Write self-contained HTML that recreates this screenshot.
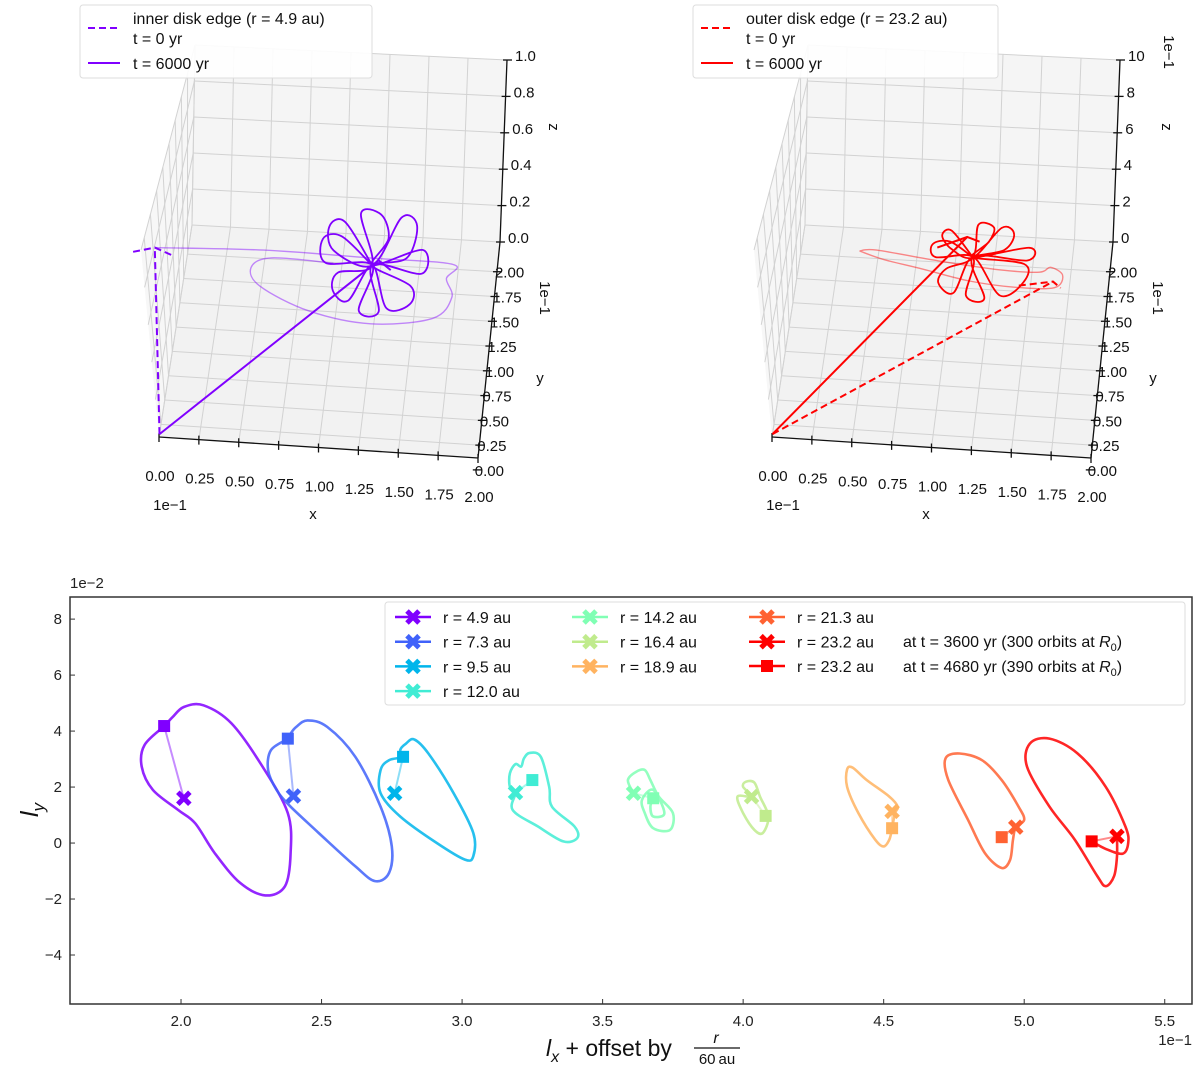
<!DOCTYPE html>
<html><head><meta charset="utf-8"><style>
html,body{margin:0;padding:0;background:#fff;}
svg{display:block;font-family:"Liberation Sans","DejaVu Sans",sans-serif;}
</style></head>
<body>
<svg id="fig" width="1200" height="1070" viewBox="0 0 1200 1070" xmlns="http://www.w3.org/2000/svg">
<g id="top3d"></g>
<g id="bottom"></g>
</svg>
<script>
// ================= Bottom chart data =================
const radii = [4.9, 7.3, 9.5, 12.0, 14.2, 16.4, 18.9, 21.3, 23.2];
const crossX = [2.01, 2.40, 2.76, 3.19, 3.61, 4.03, 4.53, 4.97, 5.33];
const crossY = [1.60, 1.68, 1.78, 1.80, 1.78, 1.66, 1.13, 0.57, 0.24];
const squareX = [1.94, 2.38, 2.79, 3.25, 3.68, 4.08, 4.53, 4.92, 5.24];
const squareY = [4.18, 3.73, 3.08, 2.25, 1.60, 0.97, 0.53, 0.21, 0.06];
const loop1X = [1.94,1.87,1.86,1.90,1.99,2.05,2.12,2.21,2.30,2.37,2.39,2.38,2.29,2.18,2.08,2.01,1.97];
const loop1Y = [4.18,3.50,2.73,1.90,1.18,0.71,-0.36,-1.42,-1.87,-1.54,-0.36,1.07,2.73,4.27,4.92,4.86,4.50];
const loop2X = [2.38,2.32,2.31,2.34,2.39,2.49,2.62,2.69,2.74,2.75,2.71,2.62,2.52,2.45,2.41,2.39];
const loop2Y = [3.73,3.32,2.61,1.90,1.30,0.36,-0.83,-1.36,-1.07,-0.12,1.30,3.08,4.15,4.38,4.15,3.91];
const loop3X = [2.79,2.74,2.71,2.71,2.78,2.91,3.01,3.04,3.04,2.97,2.88,2.83,2.80,2.78];
const loop3Y = [3.08,2.96,2.61,1.78,0.95,0.00,-0.59,-0.47,0.36,1.78,3.20,3.70,3.55,3.32];
const loop4X = [3.19,3.18,3.27,3.36,3.41,3.40,3.32,3.31,3.28,3.24,3.22,3.21,3.19,3.17,3.17];
const loop4Y = [1.80,1.18,0.59,0.06,0.18,0.59,1.30,2.01,3.08,3.22,3.02,2.73,2.82,2.49,2.01];
const loop5X = [3.61,3.59,3.62,3.65,3.67,3.70,3.75,3.74,3.68,3.65,3.64,3.68,3.72,3.68,3.67,3.68];
const loop5Y = [1.78,2.25,2.55,2.61,2.25,1.66,1.07,0.47,0.53,1.07,1.54,1.90,1.07,0.95,1.30,1.60];
const loop6X = [4.03,4.00,4.01,4.04,4.06,4.09,4.07,4.04,4.00,3.98];
const loop6Y = [1.66,2.01,2.19,2.16,1.66,0.95,0.36,0.47,1.07,1.66];
const loop7X = [4.53,4.52,4.50,4.47,4.41,4.37,4.37,4.39,4.44,4.52,4.55,4.54];
const loop7Y = [0.53,0.12,-0.12,0.12,1.07,2.01,2.63,2.69,2.25,1.66,1.30,1.07];
const loop8X = [4.97,5.00,4.98,4.92,4.85,4.77,4.72,4.73,4.80,4.86,4.92,4.95,4.96];
const loop8Y = [0.57,0.83,1.30,2.25,2.96,3.20,3.02,2.25,0.83,-0.36,-0.89,-0.59,0.12];
const loop9X = [5.33,5.33,5.32,5.29,5.26,5.18,5.09,5.01,5.02,5.09,5.19,5.29,5.36,5.37,5.35,5.29,5.24];
const loop9Y = [0.24,-0.47,-1.18,-1.54,-1.18,0.12,1.30,2.73,3.55,3.73,3.20,2.01,0.59,0.00,-0.38,-0.21,0.06];
const xTicks = [2.0, 2.5, 3.0, 3.5, 4.0, 4.5, 5.0, 5.5];
const xTickLabels = ["2.0","2.5","3.0","3.5","4.0","4.5","5.0","5.5"];
const yTicks = [8, 6, 4, 2, 0, -2, -4];
const yTickLabels = ["8","6","4","2","0","\u22122","\u22124"];

const colors = ["#8000ff","#4062fa","#00b5eb","#40ecd4","#80ffb4","#c0eb8d","#ffb360","#ff6232","#ff0000"];
const NS = "http://www.w3.org/2000/svg";
function el(parent, tag, attrs, text){
  const e = document.createElementNS(NS, tag);
  for (const k in attrs) e.setAttribute(k, attrs[k]);
  if (text !== undefined) e.textContent = text;
  parent.appendChild(e); return e;
}
function crPath(pts, closed){
  const n = pts.length;
  const get = i => closed ? pts[(i+n)%n] : pts[Math.max(0, Math.min(n-1, i))];
  let d = "M" + pts[0][0].toFixed(1) + "," + pts[0][1].toFixed(1);
  const segs = closed ? n : n-1;
  for (let i=0;i<segs;i++){
    const p0=get(i-1),p1=get(i),p2=get(i+1),p3=get(i+2);
    const c1=[p1[0]+(p2[0]-p0[0])/6, p1[1]+(p2[1]-p0[1])/6];
    const c2=[p2[0]-(p3[0]-p1[0])/6, p2[1]-(p3[1]-p1[1])/6];
    d += " C"+c1[0].toFixed(1)+","+c1[1].toFixed(1)+" "+c2[0].toFixed(1)+","+c2[1].toFixed(1)+" "+p2[0].toFixed(1)+","+p2[1].toFixed(1);
  }
  return d + (closed ? " Z" : "");
}

// ---------- bottom axes ----------
const B = {x0:70, x1:1192, y0:597, y1:1004, xmin:1.605, xmax:5.597, ymin:-5.75, ymax:8.79};
function sx(v){ return B.x0 + (v - B.xmin)/(B.xmax - B.xmin)*(B.x1 - B.x0); }
function sy(v){ return B.y1 - (v - B.ymin)/(B.ymax - B.ymin)*(B.y1 - B.y0); }
const bot = document.getElementById("bottom");
const frameRect = el(bot, "rect", {x:B.x0, y:B.y0, width:B.x1-B.x0, height:B.y1-B.y0, fill:"none", stroke:"#333", "stroke-width":1.5});


xTicks.forEach((t,i)=>{
  const X = sx(t);
  const tk = el(bot,"line",{x1:X,x2:X,y1:B.y1,y2:B.y1-5,stroke:"#333","stroke-width":1});
  
  
  const lb = el(bot,"text",{x:X,y:B.y1+22,"text-anchor":"middle","font-size":15,fill:"#222"}, xTickLabels[i]);
  
  
});
yTicks.forEach((t,i)=>{
  const Y = sy(t);
  const tk = el(bot,"line",{x1:B.x0,x2:B.x0+5,y1:Y,y2:Y,stroke:"#333","stroke-width":1});
  
  
  const lb = el(bot,"text",{x:B.x0-8,y:Y+5,"text-anchor":"end","font-size":15,fill:"#222"}, yTickLabels[i]);
  
  
});
let t1 = el(bot,"text",{x:70,y:588,"font-size":15,fill:"#222"},"1e\u22122");


let t2 = el(bot,"text",{x:1192,y:1045,"text-anchor":"end","font-size":15,fill:"#222"},"1e\u22121");


let yl = el(bot,"text",{x:0,y:0,"font-size":25,fill:"#111",transform:"translate(38,810) rotate(-90)","text-anchor":"middle"});
yl.innerHTML = '<tspan font-style="italic">l</tspan><tspan font-style="italic" font-size="17" dy="6">y</tspan>';


let xl = el(bot,"g",{});


el(xl,"text",{x:546,y:1056,"font-size":23,fill:"#111"}).innerHTML = '<tspan font-style="italic">l</tspan><tspan font-style="italic" font-size="16" dy="6">x</tspan><tspan dy="-6"> + offset by </tspan>';
el(xl,"text",{x:716,y:1043,"font-size":16,"font-style":"italic","text-anchor":"middle",fill:"#111"},"r");
el(xl,"line",{x1:694,x2:740,y1:1048,y2:1048,stroke:"#111","stroke-width":1.2});
el(xl,"text",{x:717,y:1064,"font-size":15,"text-anchor":"middle",fill:"#111"},"60\u2009au");

const loopsX = [loop1X,loop2X,loop3X,loop4X,loop5X,loop6X,loop7X,loop8X,loop9X];
const loopsY = [loop1Y,loop2Y,loop3Y,loop4Y,loop5Y,loop6Y,loop7Y,loop8Y,loop9Y];
const closedFlags = [true,true,true,true,false,true,true,true,false];
function drawX(parent, X, Y, c, s){
  const g = el(parent,"g",{});
  el(g,"line",{x1:X-s,y1:Y-s,x2:X+s,y2:Y+s,stroke:c,"stroke-width":5,"stroke-linecap":"butt"});
  el(g,"line",{x1:X-s,y1:Y+s,x2:X+s,y2:Y-s,stroke:c,"stroke-width":5,"stroke-linecap":"butt"});
  return g;
}
radii.forEach((r,i)=>{
  const g = el(bot,"g",{});
  
  
  const pts = loopsX[i].map((v,k)=>[sx(v), sy(loopsY[i][k])]);
  const p = el(g,"path",{d:crPath(pts, closedFlags[i]), fill:"none", stroke:colors[i], "stroke-width":2.6, "stroke-opacity":0.85});
  
  
  const c = el(g,"line",{x1:sx(squareX[i]),y1:sy(squareY[i]),x2:sx(crossX[i]),y2:sy(crossY[i]),stroke:colors[i],"stroke-width":2,"stroke-opacity":0.45});
  
  
  const sq = el(g,"rect",{x:sx(squareX[i])-6,y:sy(squareY[i])-6,width:12,height:12,fill:colors[i]});
  
  
  const xm = drawX(g, sx(crossX[i]), sy(crossY[i]), colors[i], 6);
  
  
});
// legend
const lg = el(bot,"g",{});


el(lg,"rect",{x:385,y:602,width:800,height:103,rx:3,fill:"#fff","fill-opacity":0.85,stroke:"#ddd"});
const legCol = [0,0,0,0,1,1,1,2,2];
const legRow = [0,1,2,3,0,1,2,0,1];
const colMX = [413,590,767];
radii.forEach((r,i)=>{
  const e = el(lg,"g",{});
  
  
  const Y = 617 + legRow[i]*24.7, X = colMX[legCol[i]];
  el(e,"line",{x1:X-18,x2:X+18,y1:Y,y2:Y,stroke:colors[i],"stroke-width":2.5});
  drawX(e, X, Y, colors[i], 6);
  el(e,"text",{x:X+30,y:Y+6,"font-size":16,fill:"#111"},"r = "+r.toFixed(1)+" au");
});
const e2 = el(lg,"g",{});


el(e2,"line",{x1:749,x2:785,y1:666,y2:666,stroke:"#ff0000","stroke-width":2.5});
el(e2,"rect",{x:761,y:660,width:12,height:12,fill:"#ff0000"});
el(e2,"text",{x:797,y:672,"font-size":16,fill:"#111"},"r = 23.2 au");
el(lg,"text",{x:903,y:647,"font-size":16,fill:"#111"}).innerHTML='at t = 3600 yr  (300 orbits at <tspan font-style="italic">R</tspan><tspan font-size="11" dy="4">0</tspan><tspan dy="-4">)</tspan>';
el(lg,"text",{x:903,y:672,"font-size":16,fill:"#111"}).innerHTML='at t = 4680 yr  (390 orbits at <tspan font-style="italic">R</tspan><tspan font-size="11" dy="4">0</tspan><tspan dy="-4">)</tspan>';

// ================= 3D panels data =================
const xTicks3d = [0,0.25,0.5,0.75,1.0,1.25,1.5,1.75,2.0];
const xTickLabels3d = ["0.00","0.25","0.50","0.75","1.00","1.25","1.50","1.75","2.00"];
const yTicks3d = [0,0.25,0.5,0.75,1.0,1.25,1.5,1.75,2.0];
const yTickLabels3d = ["0.00","0.25","0.50","0.75","1.00","1.25","1.50","1.75","2.00"];
const zTicksL = [0,0.2,0.4,0.6,0.8,1.0];
const zTickLabelsL = ["0.0","0.2","0.4","0.6","0.8","1.0"];
const zTicksR = [0,2,4,6,8,10];
const zTickLabelsR = ["0","2","4","6","8","10"];
const innerSolidX = [0, 1.24, 1.32];
const innerSolidY = [0.15, 1.9, 1.9];
const innerSolidZ = [0, 0.08, 0.03];
const innerDashX = [0, -0.2];
const innerDashY = [0.15, 1.9];
const innerDashZ = [0, 0.08];
const innerHeadX = [-0.34, -0.2, -0.08];
const innerHeadZ = [0.05, 0.08, 0.04];
const innerRoseX = [1.2,1.02,0.92,0.95,1.2,1.38,1.48,1.42,1.2,1.45,1.45,1.3,1.2,1.05,0.95,0.98,1.2,1.12,1.25,1.3,1.2,1.52,1.52,1.2,1.25,1.12,1.2,0.9,0.88,1.0,1.2];
const innerRoseZ = [0.05,0.28,0.25,0.12,0.05,0.32,0.28,0.1,0.05,-0.05,-0.15,-0.18,0.05,-0.15,-0.1,0.0,0.05,0.33,0.33,0.2,0.05,0.15,0.02,0.05,-0.2,-0.2,0.05,0.05,0.18,0.2,0.05];
const innerFaintX = [-0.2,0.5,1.2,1.72,1.68,1.72,1.6,1.2,0.8,0.48,0.42,0.55,0.95];
const innerFaintZ = [0.08,0.1,0.09,0.08,0.0,-0.1,-0.22,-0.27,-0.22,-0.1,0.0,0.06,0.05];
const outerSolidX = [0, 1.08];
const outerSolidY = [0.15, 1.9];
const outerSolidZ = [0, 2.0];
const outerSHeadX = [0.89, 1.08, 1.16];
const outerSHeadZ = [1.33, 2.0, 1.78];
const outerDashX = [0, 1.64];
const outerDashY = [0.15, 1.9];
const outerDashZ = [0, -0.17];
const outerDHeadX = [1.42, 1.64, 1.69];
const outerDHeadZ = [-0.5, -0.17, -0.5];
const outerRoseX = [1.12,0.98,0.92,0.98,1.12,1.3,1.38,1.32,1.12,1.45,1.45,1.3,1.12,1.0,0.9,0.95,1.12,1.15,1.25,1.22,1.12,1.48,1.47,1.12,1.2,1.08,1.12,0.88,0.86,0.97,1.12];
const outerRoseZ = [0.9,2.3,2.0,1.3,0.9,2.6,2.3,1.4,0.9,0.7,-0.3,-1.1,0.9,-1.1,-0.6,0.2,0.9,2.7,2.6,1.8,0.9,1.6,0.9,0.9,-1.3,-1.2,0.9,0.8,1.5,1.7,0.9];
const outerFaintX = [0.39,0.55,0.8,1.1,1.4,1.65,1.7,1.62,1.55,1.3,0.9,0.5,0.39];
const outerFaintZ = [0.9,0.5,0.1,-0.4,-0.6,-0.5,0.2,0.6,0.3,0.3,0.6,1.0,0.9];

const topG = document.getElementById("top3d");
const P00=[159,437],P10=[478,458],P01=[192,225],P11=[500,242];
const Z00=[-18,-187],Z10=[15,-190],Z01=[3,-180],Z11=[7,-182];
const YLO=0.12, YHI=2.3;
function bil(A,Bp,C,D,u,v,k){ return A[k]*(1-u)*(1-v)+Bp[k]*u*(1-v)+C[k]*(1-u)*v+D[k]*u*v; }
function makeProj(ox, zmax){
  return function(x,y,z){
    const u=x/2, v=(y-YLO)/(YHI-YLO), w=z/zmax;
    return [ox + bil(P00,P10,P01,P11,u,v,0) + w*bil(Z00,Z10,Z01,Z11,u,v,0),
                 bil(P00,P10,P01,P11,u,v,1) + w*bil(Z00,Z10,Z01,Z11,u,v,1)];
  };
}
function pstr(a){ return a[0].toFixed(1)+","+a[1].toFixed(1); }
function line3(g, pr, a, b, attrs){
  const p=pr(a[0],a[1],a[2]), q=pr(b[0],b[1],b[2]);
  return el(g,"line",Object.assign({x1:p[0],y1:p[1],x2:q[0],y2:q[1]},attrs));
}
function panel(cfg){
  const g = el(topG,"g",{});
  
  
  const pr = makeProj(cfg.ox, cfg.zmax);
  const zm = cfg.zmax;
  const poly = pts => pts.map(p=>pstr(pr(p[0],p[1],p[2]))).join(" ");
  const fl = el(g,"polygon",{points:poly([[0,YLO,0],[2,YLO,0],[2,YHI,0],[0,YHI,0]]),fill:"#f2f2f2",stroke:"none"});
  
  
  const bw = el(g,"polygon",{points:poly([[0,YHI,0],[2,YHI,0],[2,YHI,zm],[0,YHI,zm]]),fill:"#f5f5f5",stroke:"none"});
  
  
  const lw = el(g,"polygon",{points:poly([[0,YLO,0],[0,YHI,0],[0,YHI,zm],[0,YLO,zm]]),fill:"#f7f7f7",stroke:"none"});
  
  
  const grid = el(g,"g",{stroke:"#d2d2d2","stroke-width":1});
  
  
  xTicks3d.forEach(x=>{ line3(grid,pr,[x,YLO,0],[x,YHI,0],{}); line3(grid,pr,[x,YHI,0],[x,YHI,zm],{}); });
  yTicks3d.slice(1).forEach(y=>{ line3(grid,pr,[0,y,0],[2,y,0],{}); line3(grid,pr,[0,y,0],[0,y,zm],{}); });
  line3(grid,pr,[0,YHI,0],[0,YHI,zm],{});
  cfg.zt.forEach(z=>{ line3(grid,pr,[0,YHI,z],[2,YHI,z],{}); line3(grid,pr,[0,YLO,z],[0,YHI,z],{}); });
  const ax = el(g,"g",{stroke:"#111","stroke-width":1.3,fill:"none"});
  
  
  const a0=pr(0,YLO,0), a1=pr(2,YLO,0), a2=pr(2,YHI,0), a3=pr(2,YHI,zm);
  el(ax,"polyline",{points:[a0,a1].map(pstr).join(" ")});
  el(ax,"polyline",{points:[a1,a2,a3].map(pstr).join(" ")});
  xTicks3d.forEach((x,i)=>{
    const p = pr(x,YLO,0);
    el(ax,"line",{x1:p[0],y1:p[1]-4,x2:p[0],y2:p[1]+5});
    const t = el(g,"text",{x:p[0]+1,y:p[1]+44,"text-anchor":"middle","font-size":15,fill:"#111"},xTickLabels3d[i]);
    
    
  });
  yTicks3d.forEach((y,i)=>{
    const p = pr(2,y,0);
    el(ax,"line",{x1:p[0]-4,y1:p[1],x2:p[0]+5,y2:p[1]});
    const t = el(g,"text",{x:p[0]-2,y:p[1]+6,"font-size":15,fill:"#111"},yTickLabels3d[i]);
    
    
  });
  cfg.zt.forEach((z,i)=>{
    const p = pr(2,YHI,z);
    el(ax,"line",{x1:p[0]-4,y1:p[1],x2:p[0]+5,y2:p[1]});
    const t = el(g,"text",{x:p[0]+8,y:p[1]+1,"font-size":15,fill:"#111"},cfg.zl[i]);
    
    
  });
  const ox = cfg.ox;
  const lab = (x,y,txt,rot,nm)=>{ const t=el(g,"text",{x:0,y:0,"font-size":15,fill:"#111","text-anchor":"middle",transform:"translate("+x+","+y+")"+(rot?" rotate("+rot+")":"")},txt);   };
  lab(ox+313,519,"x",0,'x-axis-title');
  lab(ox+170,510,"1e\u22121",0,'x-offset-label');
  lab(ox+540,383,"y",0,'y-axis-title');
  lab(ox+540,298,"1e\u22121",90,'y-offset-label');
  lab(ox+549,127,"z",90,'z-axis-title');
  if (cfg.zOffset) lab(ox+551,52,"1e\u22121",90,'z-offset-label');
  const c = cfg.color;
  const traj = el(g,"g",{fill:"none"});
  
  
  const fpts = cfg.faintX.map((x,k)=>pr(x,1.9,cfg.faintZ[k]));
  let f = el(traj,"path",{d:crPath(fpts,false),stroke:c,"stroke-width":1.4,"stroke-opacity":0.45});
  
  
  const rpts = cfg.roseX.map((x,k)=>pr(x,1.9,cfg.roseZ[k]));
  let rp = el(traj,"path",{d:crPath(rpts,false),stroke:c,"stroke-width":1.8});
  
  
  let ds = el(traj,"polyline",{points:cfg.dashX.map((x,k)=>pstr(pr(x,cfg.dashY[k],cfg.dashZ[k]))).join(" "),stroke:c,"stroke-width":2,"stroke-dasharray":"7,4"});
  
  
  let dh = el(traj,"polyline",{points:cfg.dHeadX.map((x,k)=>pstr(pr(x,1.9,cfg.dHeadZ[k]))).join(" "),stroke:c,"stroke-width":2,"stroke-dasharray":"7,4"});
  
  
  let so = el(traj,"polyline",{points:cfg.solidX.map((x,k)=>pstr(pr(x,cfg.solidY[k],cfg.solidZ[k]))).join(" "),stroke:c,"stroke-width":2});
  
  
  if (cfg.sHeadX){
    let sh = el(traj,"polyline",{points:cfg.sHeadX.map((x,k)=>pstr(pr(x,1.9,cfg.sHeadZ[k]))).join(" "),stroke:c,"stroke-width":2});
    
    
  }
  const L = el(g,"g",{});
  
  
  el(L,"rect",{x:ox+80,y:5,width:cfg.legW,height:73,rx:3,fill:"#fff","fill-opacity":0.9,stroke:"#ddd"});
  el(L,"line",{x1:ox+88,x2:ox+120,y1:28,y2:28,stroke:c,"stroke-width":2,"stroke-dasharray":"7,4"});
  el(L,"line",{x1:ox+88,x2:ox+120,y1:63,y2:63,stroke:c,"stroke-width":2});
  el(L,"text",{x:ox+133,y:24,"font-size":16,fill:"#111"},cfg.legTitle);
  el(L,"text",{x:ox+133,y:44,"font-size":16,fill:"#111"},"t = 0 yr");
  el(L,"text",{x:ox+133,y:69,"font-size":16,fill:"#111"},"t = 6000 yr");
}
panel({name:"inner-disk-3d-panel", ox:0, zmax:1, zt:zTicksL, zl:zTickLabelsL, color:"#8000ff",
  faintX:innerFaintX, faintZ:innerFaintZ, roseX:innerRoseX, roseZ:innerRoseZ,
  dashX:innerDashX, dashY:innerDashY, dashZ:innerDashZ, dHeadX:innerHeadX, dHeadZ:innerHeadZ,
  solidX:innerSolidX, solidY:innerSolidY, solidZ:innerSolidZ, legW:292, legTitle:"inner disk edge (r = 4.9 au)", zOffset:false});
panel({name:"outer-disk-3d-panel", ox:613, zmax:10, zt:zTicksR, zl:zTickLabelsR, color:"#ff0000",
  faintX:outerFaintX, faintZ:outerFaintZ, roseX:outerRoseX, roseZ:outerRoseZ,
  dashX:outerDashX, dashY:outerDashY, dashZ:outerDashZ, dHeadX:outerDHeadX, dHeadZ:outerDHeadZ,
  solidX:outerSolidX, solidY:outerSolidY, solidZ:outerSolidZ, sHeadX:outerSHeadX, sHeadZ:outerSHeadZ,
  legW:305, legTitle:"outer disk edge (r = 23.2 au)", zOffset:true});
</script>
</body></html>
